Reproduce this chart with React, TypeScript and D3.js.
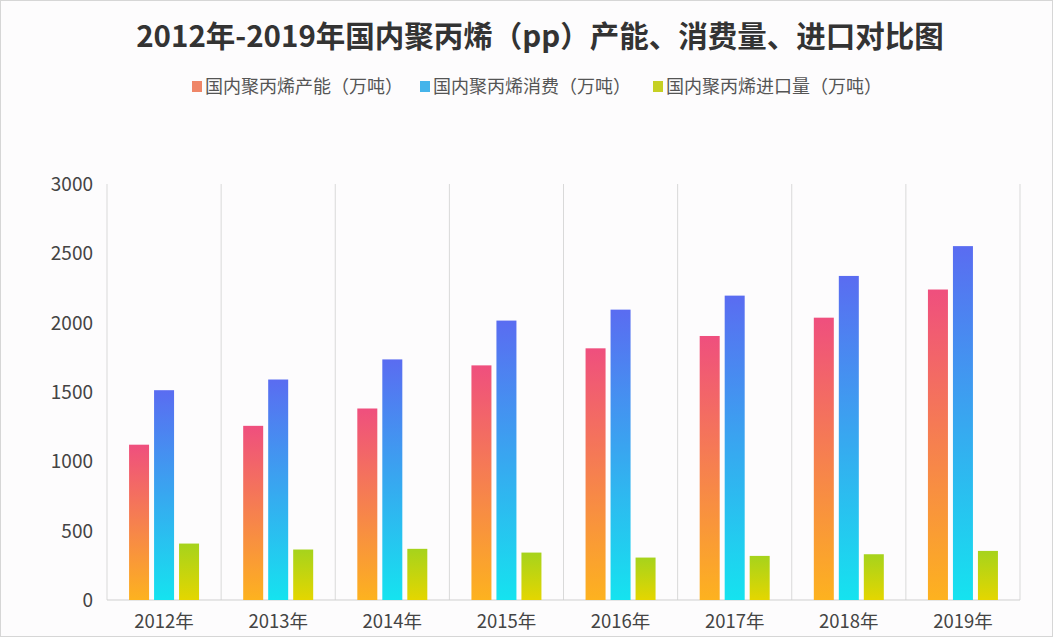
import React from "react";
import * as d3 from "d3";

const years = ["2012年", "2013年", "2014年", "2015年", "2016年", "2017年", "2018年", "2019年"];
const capacity = [1120, 1256, 1381, 1692, 1815, 1904, 2036, 2239];
const consumption = [1513, 1590, 1735, 2015, 2094, 2195, 2337, 2552];
const imports = [407, 364, 369, 342, 306, 318, 330, 354];
const seriesNames = ["国内聚丙烯产能（万吨）", "国内聚丙烯消费（万吨）", "国内聚丙烯进口量（万吨）"];
const yTicks = [0, 500, 1000, 1500, 2000, 2500, 3000];
const titleText = "2012年-2019年国内聚丙烯（pp）产能、消费量、进口对比图";

const W = 1053;
const H = 637;
const margin = { left: 107, right: 33, top: 184, bottom: 37 };

const gradients = [
  { id: "g0", top: "#ef4f7e", bottom: "#fdb21f", swatch: "#ef8668" },
  { id: "g1", top: "#5a6cf1", bottom: "#15e3ef", swatch: "#45b4ea" },
  { id: "g2", top: "#a6d31c", bottom: "#e4d600", swatch: "#c6d024" },
];

export default function App() {
  const series = [capacity, consumption, imports];
  const x = d3.scaleBand<string>().domain(years).range([margin.left, W - margin.right]).paddingInner(0).paddingOuter(0);
  const y = d3.scaleLinear().domain([0, 3000]).range([H - margin.bottom, margin.top]);
  const barW = 20;
  const gap = 5;
  const groupW = barW * 3 + gap * 2;
  const font = "'Noto Sans CJK SC', 'Noto Sans', sans-serif";
  const boundaries = years.map((yr) => x(yr) as number).concat([W - margin.right]);
  const legendX = [192, 420, 653];

  return (
    <svg width={W} height={H} style={{ position: "absolute", left: 0, top: 0, display: "block" }}>
      <defs>
        {gradients.map((g) => (
          <linearGradient key={g.id} id={g.id} x1="0" y1="0" x2="0" y2="1">
            <stop offset="0%" stopColor={g.top} />
            <stop offset="100%" stopColor={g.bottom} />
          </linearGradient>
        ))}
      </defs>
      <rect x={0} y={0} width={W} height={H} fill="#fdfcfd" />
      <rect x={0.5} y={0.5} width={W - 1} height={H - 1} fill="none" stroke="#d6d6d6" />
      <text x={540} y={47} textAnchor="middle" fontFamily={font} fontWeight={700} fontSize={29.5} fill="#333">
        {titleText}
      </text>
      {seriesNames.map((n, i) => (
        <g key={n}>
          <rect x={legendX[i]} y={81} width={10} height={11} fill={gradients[i].swatch} />
          <text x={legendX[i] + 13} y={92.5} fontFamily={font} fontSize={18} fill="#555">
            {n}
          </text>
        </g>
      ))}
      {boundaries.map((bx, i) => (
        <line key={i} x1={bx} x2={bx} y1={y(3000)} y2={y(0)} stroke="#d9d9d9" strokeWidth={1} />
      ))}
      <line x1={margin.left} x2={W - margin.right} y1={y(0)} y2={y(0)} stroke="#cfcfcf" strokeWidth={1} />
      {yTicks.map((t) => (
        <text key={t} x={93} y={y(t) + 7} textAnchor="end" fontFamily={font} fontSize={19} fill="#444">
          {t}
        </text>
      ))}
      {years.map((yr, i) => {
        const cx = (x(yr) as number) + x.bandwidth() / 2;
        const x0 = cx - groupW / 2;
        return (
          <g key={yr}>
            {series.map((s, k) => (
              <rect
                key={k}
                x={x0 + k * (barW + gap)}
                y={y(s[i])}
                width={barW}
                height={y(0) - y(s[i])}
                fill={`url(#${gradients[k].id})`}
              />
            ))}
            <text x={cx} y={628} textAnchor="middle" fontFamily={font} fontSize={18.5} fill="#444">
              {yr}
            </text>
          </g>
        );
      })}
    </svg>
  );
}
